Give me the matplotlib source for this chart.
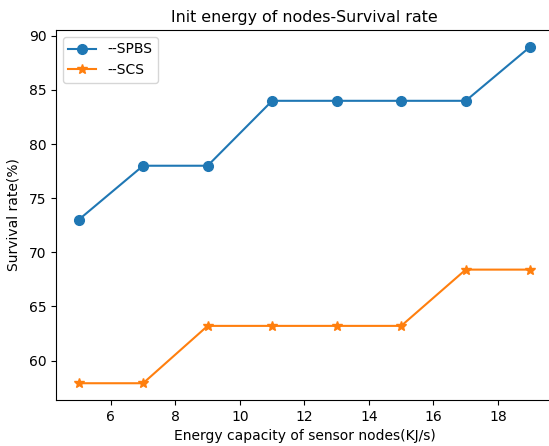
import matplotlib
matplotlib.use("Agg")
import matplotlib.pyplot as plt

energy = [5, 7, 9, 11, 13, 15, 17, 19]
spbs = [73, 78, 78, 84, 84, 84, 84, 89]
scs = [57.9, 57.9, 63.2, 63.2, 63.2, 63.2, 68.4, 68.4]

fig = plt.figure(figsize=(5.49, 4.46), dpi=100)
# right spine falls just outside the picture, like the reference crop
ax = fig.add_axes([0.102, 0.103, 0.905, 0.830])

ax.plot(energy, spbs, marker='o', markersize=7, label='--SPBS')
ax.plot(energy, scs, marker='*', markersize=7, label='--SCS')

ax.set_title('Init energy of nodes-Survival rate', fontsize=11.4)
ax.set_xlabel('Energy capacity of sensor nodes(KJ/s)')
ax.set_ylabel('Survival rate(%)', labelpad=6)
ax.legend(loc='upper left')

fig.savefig('out.png', dpi=100)
